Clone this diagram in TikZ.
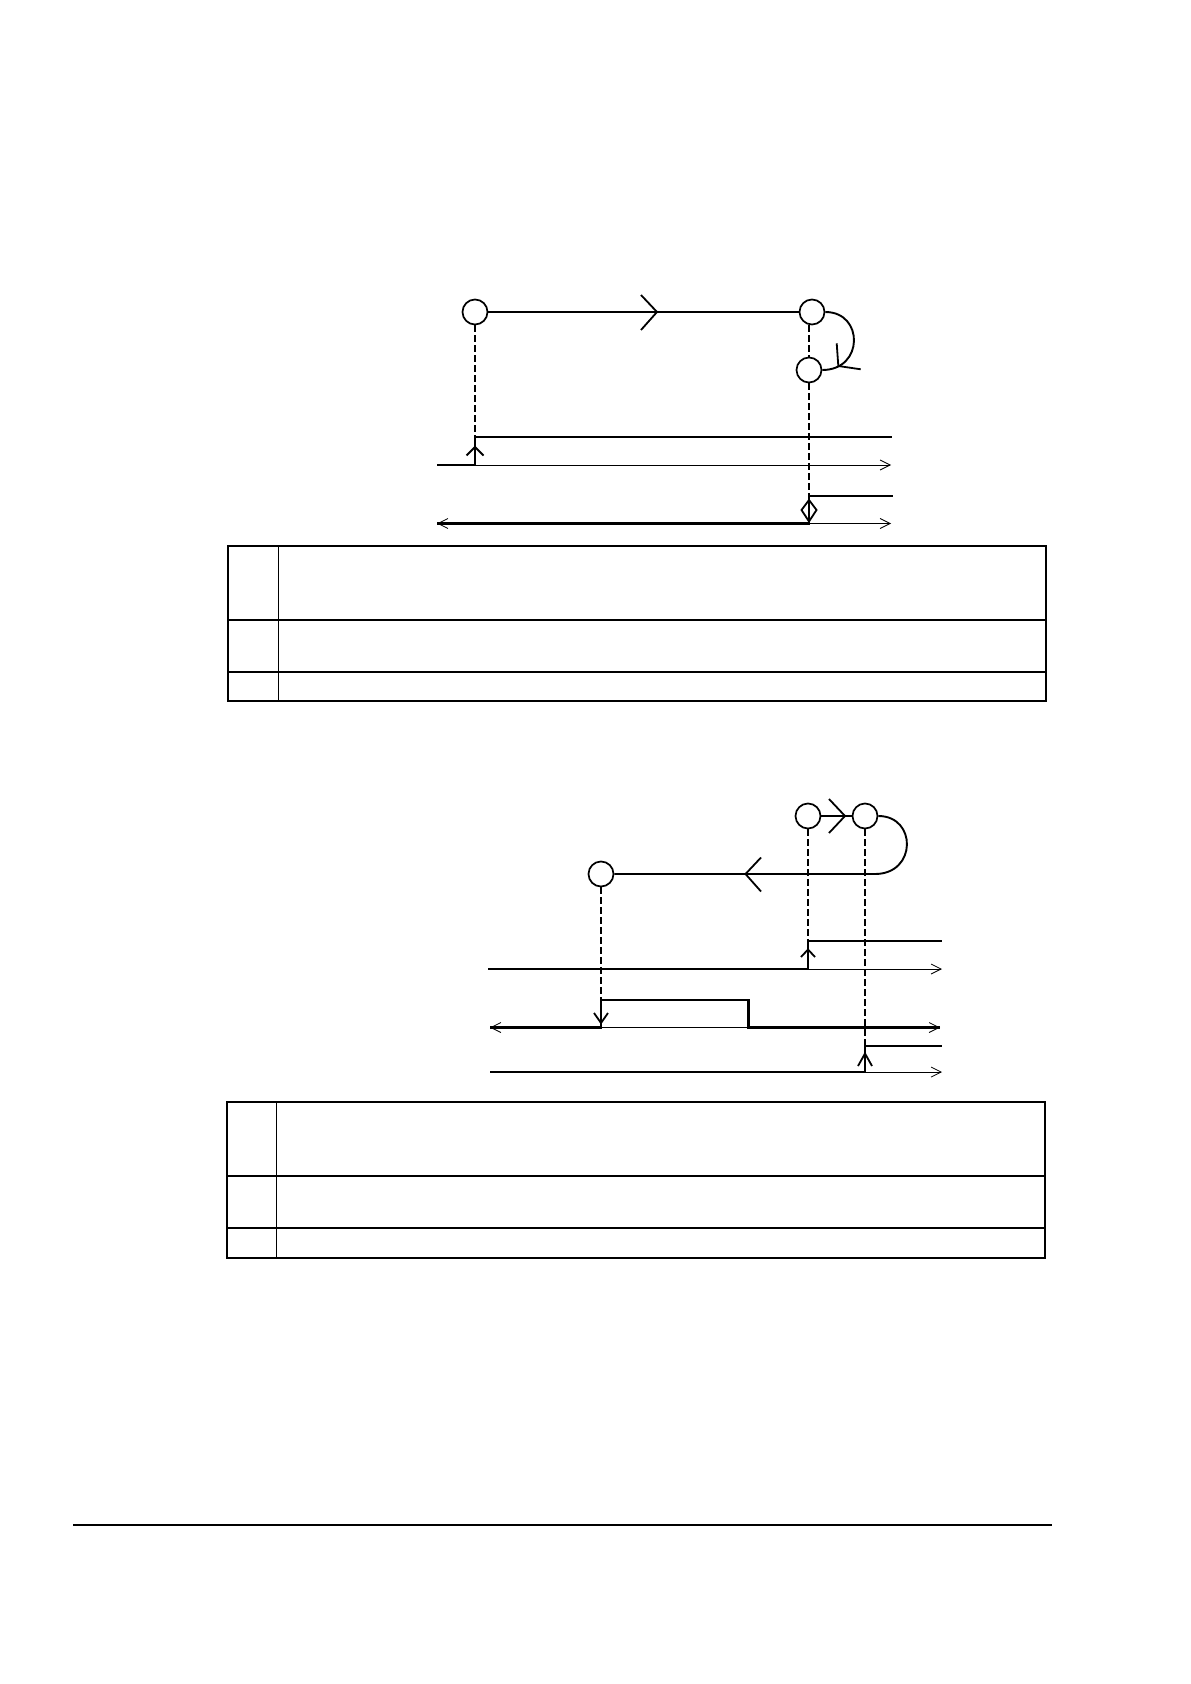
\documentclass[tikz,border=0pt]{standalone}
\usetikzlibrary{arrows.meta}
\begin{document}
\begin{tikzpicture}[x=0.5pt,y=-0.5pt,
 state/.style={circle,draw,line width=0.85pt,minimum size=12.5pt,inner sep=0pt},
 flow/.style={line width=0.95pt},
 sig/.style={line width=1.05pt},
 axis/.style={line width=0.4pt,-{Straight Barb[length=5pt,width=5pt]}},
 axistwo/.style={line width=0.4pt,{Straight Barb[length=5pt,width=5pt]}-{Straight Barb[length=5pt,width=5pt]}},
 guide/.style={line width=0.55pt,dash pattern=on 3.3pt off 1.7pt},
 chev/.style={line width=0.9pt,line join=miter},
 frame/.style={line width=0.95pt},
 divider/.style={line width=0.45pt},
 rule/.style={line width=1pt}]
\useasboundingbox (0,0) rectangle (1190,1684);

% ---------------- Diagram 1 ----------------
\node[state] (c1) at (475,312) {};
\node[state] (c2) at (812,312) {};
\node[state] (c3) at (809,370) {};
\draw[flow] (c1) -- (c2);
\draw[chev] (641,295) -- (657,312) -- (641,330);
\draw[flow] (c2.east) .. controls (864,312) and (864,370) .. (c3.east);
\draw[chev] (836.7,343.3) -- (838.3,366) -- (860.7,369.3);

% signal 1
\coordinate (a1l) at (437,465);
\coordinate (a1r) at (891,465);
\coordinate (r1lo) at (475,465);
\coordinate (r1hi) at (475,437);
\coordinate (h1e) at (892,437);
\draw[guide] (c1.south) -- (r1hi);
\draw[axis] (a1l) -- (a1r);
\draw[sig] (a1l) -- (r1lo) -- (r1hi) -- (h1e);
\draw[chev] (466.5,455.5) -- (475,447) -- (483.5,455.5);

% signal 2
\coordinate (a2l) at (437,523.5);
\coordinate (a2r) at (891,523.5);
\coordinate (r2lo) at (809,523.5);
\coordinate (r2hi) at (809,496);
\coordinate (h2e) at (893,496);
\draw[guide] (c3.north |- c2.south) -- (c3.north);
\draw[guide] (c3.south) -- (r2hi);
\draw[axistwo] (a2l) -- (a2r);
\draw[sig] (a2l) -- (r2lo) -- (r2hi) -- (h2e);
\draw[chev] (809,500) -- (816.5,510) -- (809,521.5) -- (801.5,510) -- cycle;

% table 1
\draw[frame] (228,546) rectangle (1046,701);
\draw[frame] (228,620) -- (1046,620);
\draw[frame] (228,672) -- (1046,672);
\draw[divider] (278,546) -- (278,701);

% ---------------- Diagram 2 ----------------
\node[state] (A) at (601,874) {};
\node[state] (B) at (808,816) {};
\node[state] (C) at (865,816) {};
\draw[flow] (B) -- (C);
\draw[chev] (829,799) -- (845,816) -- (829,833);
\coordinate (Aret) at (875,874);
\draw[flow] (C.east) .. controls (917,816) and (917,874) .. (Aret) -- (A);
\draw[chev] (761,857.5) -- (745.5,874) -- (761,891.5);

% row 1
\coordinate (b1l) at (488,969);
\coordinate (b1lo) at (808,969);
\coordinate (b1hi) at (808,941);
\coordinate (b1e) at (942,941);
\coordinate (b1r) at (942,969);
\draw[guide] (B.south) -- (b1hi);
\draw[axis] (b1lo) -- (b1r);
\draw[sig] (b1l) -- (b1lo) -- (b1hi) -- (b1e);
\draw[chev] (801,957) -- (808,949.5) -- (815,957);

% row 2
\coordinate (b2l) at (490,1027.5);
\coordinate (b2r) at (940,1027.5);
\coordinate (b2up) at (601,1027.5);
\coordinate (b2hi) at (601,1000);
\coordinate (b2hf) at (748.5,1000);
\coordinate (b2dn) at (748.5,1027.5);
\draw[guide] (A.south) -- (b2hi);
\draw[axistwo] (b2l) -- (b2r);
\draw[sig] (b2l) -- (b2up) -- (b2hi) -- (b2hf) -- (b2dn) -- (b2r);
\draw[chev] (594,1013) -- (601,1023) -- (608,1013);

% row 3
\coordinate (b3l) at (490,1072);
\coordinate (b3lo) at (865,1072);
\coordinate (b3hi) at (865,1046);
\coordinate (b3e) at (942,1046);
\coordinate (b3r) at (942,1072);
\draw[guide] (C.south) -- (b3hi);
\draw[axis] (b3lo) -- (b3r);
\draw[sig] (b3l) -- (b3lo) -- (b3hi) -- (b3e);
\draw[chev] (858,1066) -- (865,1053.5) -- (872,1066);

% table 2
\draw[frame] (227,1102) rectangle (1045,1258);
\draw[frame] (227,1176) -- (1045,1176);
\draw[frame] (227,1228) -- (1045,1228);
\draw[divider] (276,1102) -- (276,1258);

% footer rule
\coordinate (fl) at (73,1525);
\coordinate (fr) at (1052,1525);
\draw[rule] (fl) -- (fr);
\end{tikzpicture}
\end{document}
